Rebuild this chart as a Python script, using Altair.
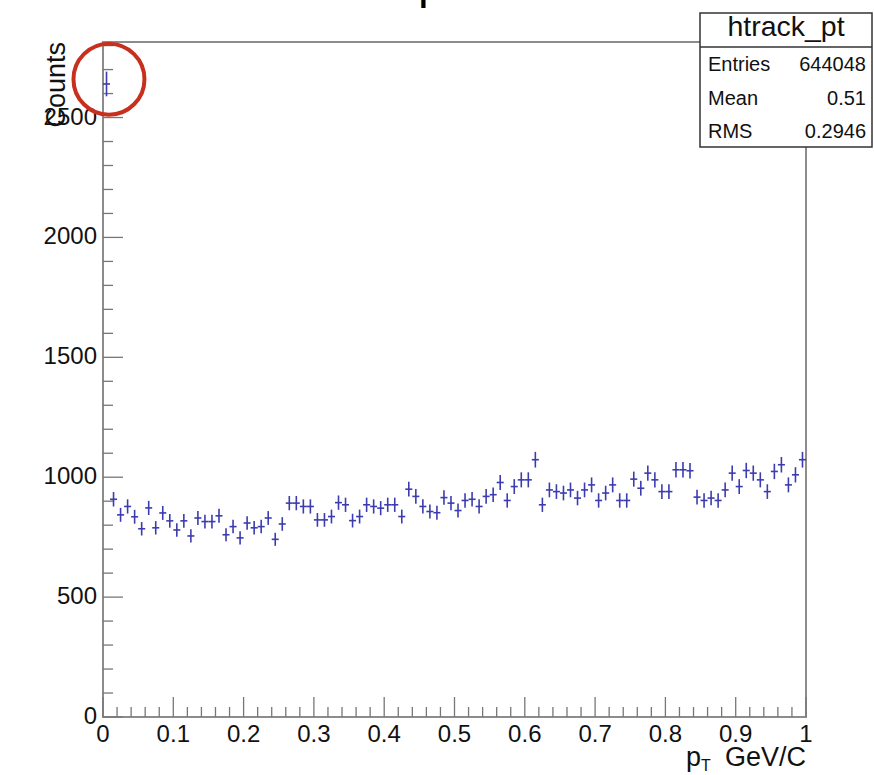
import altair as alt
import pandas as pd
import numpy as np

# ---- data (100 bins, 0..1 GeV/c) ----
counts = [2640, 908, 843, 878, 835, 785, 872, 789, 851, 818,
          780, 818, 755, 830, 815, 815, 839, 760, 794, 747,
          809, 789, 794, 830, 741, 805, 892, 892, 878, 878,
          822, 822, 836, 894, 885, 819, 836, 885, 878, 871,
          885, 885, 836, 950, 920, 878, 857, 852, 915, 892,
          861, 903, 908, 878, 920, 927, 978, 903, 961, 989,
          989, 1073, 885, 947, 940, 934, 947, 913, 947, 968,
          903, 934, 968, 903, 903, 992, 954, 1017, 989, 940,
          940, 1031, 1031, 1027, 917, 903, 913, 903, 947, 1017,
          961, 1028, 1017, 989, 940, 1024, 1052, 968, 1010, 1073]
n_bins = 100
bin_width = 0.01
x_label_values = [0, 0.1, 0.2, 0.3, 0.4, 0.5, 0.6, 0.7, 0.8, 0.9, 1.0]
x_label_texts = ["0", "0.1", "0.2", "0.3", "0.4", "0.5", "0.6", "0.7", "0.8", "0.9", "1"]
x_minor_ticks = [round(i * 0.02, 2) for i in range(51)]
y_label_values = [0, 500, 1000, 1500, 2000, 2500]
y_label_texts = ["0", "500", "1000", "1500", "2000", "2500"]
y_minor_ticks = [i * 100 for i in range(29)]
stat_names = ["Entries", "Mean", "RMS"]
stat_values = ["644048", "0.51", "0.2946"]
hist_name = ["htrack_pt"]
circle_pos_x = [0.0085]
circle_pos_y = [2660]

centers = [round((i + 0.5) * bin_width, 4) for i in range(n_bins)]
df = pd.DataFrame({"x": centers, "y": counts})
df["err"] = np.sqrt(df["y"])
df["ylo"] = df["y"] - df["err"]
df["yhi"] = df["y"] + df["err"]
df["xlo"] = df["x"] - bin_width / 2
df["xhi"] = df["x"] + bin_width / 2

W, H = 703, 675
FONT = "Liberation Sans"
BLUE = "#3c3cb0"
GRAY = "#777777"
TXT = "#111111"

xs = alt.Scale(domain=[0, 1], nice=False, zero=False)
ys = alt.Scale(domain=[0, 2815], nice=False, zero=False)

base = alt.Chart(df)
vbars = base.mark_rule(color=BLUE, strokeWidth=1.6).encode(
    x=alt.X("x:Q", scale=xs, axis=None),
    y=alt.Y("ylo:Q", scale=ys, axis=None),
    y2="yhi:Q",
)
hbars = base.mark_rule(color=BLUE, strokeWidth=1.6).encode(
    x=alt.X("xlo:Q", scale=xs, axis=None),
    x2="xhi:Q",
    y=alt.Y("y:Q", scale=ys, axis=None),
)

xmin_df = pd.DataFrame({"v": [v for v in x_minor_ticks if round(v * 10, 6) % 1 != 0]})
xmaj_df = pd.DataFrame({"v": x_label_values, "t": x_label_texts})
ymin_df = pd.DataFrame({"v": [v for v in y_minor_ticks if v % 500 != 0]})
ymaj_df = pd.DataFrame({"v": y_label_values, "t": y_label_texts})

x_minor = alt.Chart(xmin_df).mark_rule(color=GRAY, strokeWidth=1.3).encode(
    x=alt.X("v:Q", scale=xs, axis=None), y=alt.value(H), y2=alt.value(H - 10))
x_major = alt.Chart(xmaj_df).mark_rule(color=GRAY, strokeWidth=1.3).encode(
    x=alt.X("v:Q", scale=xs, axis=None), y=alt.value(H), y2=alt.value(H - 20))
y_minor = alt.Chart(ymin_df).mark_rule(color=GRAY, strokeWidth=1.3).encode(
    y=alt.Y("v:Q", scale=ys, axis=None), x=alt.value(0), x2=alt.value(10))
y_major = alt.Chart(ymaj_df).mark_rule(color=GRAY, strokeWidth=1.3).encode(
    y=alt.Y("v:Q", scale=ys, axis=None), x=alt.value(0), x2=alt.value(20))

x_labels = alt.Chart(xmaj_df).mark_text(
    font=FONT, fontSize=24, align="center", baseline="top", color=TXT
).encode(x=alt.X("v:Q", scale=xs, axis=None), y=alt.value(H + 6), text="t:N")
y_labels = alt.Chart(ymaj_df).mark_text(
    font=FONT, fontSize=24, align="right", baseline="middle", color=TXT
).encode(y=alt.Y("v:Q", scale=ys, axis=None), x=alt.value(-6), text="t:N")

one = pd.DataFrame({"t": ["x"]})

y_title = alt.Chart(pd.DataFrame({"t": ["Counts"]})).mark_text(
    font=FONT, fontSize=27, angle=270, align="right", baseline="alphabetic", color=TXT
).encode(x=alt.value(-38), y=alt.value(0), text="t:N")

x_title_main = alt.Chart(pd.DataFrame({"t": ["GeV/C"]})).mark_text(
    font=FONT, fontSize=27, align="right", baseline="alphabetic", color=TXT
).encode(x=alt.value(703), y=alt.value(724), text="t:N")
x_title_p = alt.Chart(pd.DataFrame({"t": ["p"]})).mark_text(
    font=FONT, fontSize=27, align="left", baseline="alphabetic", color=TXT
).encode(x=alt.value(583), y=alt.value(724), text="t:N")
x_title_sub = alt.Chart(pd.DataFrame({"t": ["T"]})).mark_text(
    font=FONT, fontSize=16, align="left", baseline="alphabetic", color=TXT
).encode(x=alt.value(598), y=alt.value(729), text="t:N")

# descender of the (cropped) histogram title above the picture
top_title = alt.Chart(pd.DataFrame({"t": ["p"]})).mark_text(
    font=FONT, fontSize=48, align="left", baseline="alphabetic", color="#000"
).encode(x=alt.value(315), y=alt.value(-44), text="t:N")

# stats box
box = alt.Chart(one).mark_rect(fill="white", stroke="#333", strokeWidth=1.5).encode(
    x=alt.value(597), x2=alt.value(769), y=alt.value(-29), y2=alt.value(105))
box_sep = alt.Chart(one).mark_rule(color="#333", strokeWidth=1.5).encode(
    x=alt.value(597), x2=alt.value(769), y=alt.value(5))
box_head = alt.Chart(pd.DataFrame({"t": hist_name})).mark_text(
    font=FONT, fontSize=28.5, align="center", baseline="alphabetic", color=TXT
).encode(x=alt.value(683), y=alt.value(-6), text="t:N")

stat_layers = []
row_y = [29, 62.5, 95.5]
for name, val, ry in zip(stat_names, stat_values, row_y):
    stat_layers.append(alt.Chart(pd.DataFrame({"t": [name]})).mark_text(
        font=FONT, fontSize=20, align="left", baseline="alphabetic", color=TXT
    ).encode(x=alt.value(605), y=alt.value(ry), text="t:N"))
    stat_layers.append(alt.Chart(pd.DataFrame({"t": [val]})).mark_text(
        font=FONT, fontSize=20, align="right", baseline="alphabetic", color=TXT
    ).encode(x=alt.value(763), y=alt.value(ry), text="t:N"))

circle = alt.Chart(pd.DataFrame({"cx": circle_pos_x, "cy": circle_pos_y})).mark_point(
    shape="circle", filled=False, stroke="#c8301e", strokeWidth=4, size=5041, opacity=1
).encode(x=alt.X("cx:Q", scale=xs, axis=None), y=alt.Y("cy:Q", scale=ys, axis=None))

chart = alt.layer(
    x_minor, x_major, y_minor, y_major, x_labels, y_labels, vbars, hbars,
    box, box_sep, box_head, *stat_layers,
    y_title, x_title_p, x_title_sub, x_title_main, top_title, circle,
).properties(
    width=W, height=H,
    autosize=alt.AutoSizeParams(type="none"),
    padding={"left": 103, "top": 42, "right": 68, "bottom": 58},
    background="white",
).configure_view(stroke="#8c8c8c", strokeWidth=2)

chart.save("out.html", embed_options={"renderer": "svg", "actions": False})
